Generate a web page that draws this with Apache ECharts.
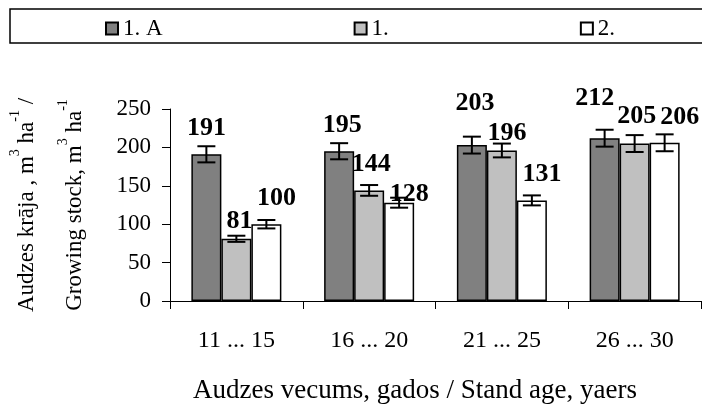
<!DOCTYPE html>
<html>
<head>
<meta charset="utf-8">
<script src="https://cdn.jsdelivr.net/npm/echarts@6/dist/echarts.min.js"></script>
<style>html,body{margin:0;padding:0;background:#fff}#c{width:702px;height:406px}</style>
</head>
<body>
<div id="c"></div>
<script>
const categories = ['11 ... 15', '16 ... 20', '21 ... 25', '26 ... 30'];
const seriesNames = ['1. A', '1.', '2.'];
const valuesA = [191, 195, 203, 212];
const values1 = [81, 144, 196, 205];
const values2 = [100, 128, 131, 206];
const errA = [10.5, 10.5, 11, 11];
const err1 = [4, 7, 9, 11];
const err2 = [5.5, 6.5, 6.5, 11];
const yMin = 0, yMax = 250, yStep = 50;

// styling: label placement relative to bar (dx, dy from bar top)
const labelShift = [
  [[0, -26], [3, -26], [3, -42], [-10, -40]],
  [[3, -18], [2, -26], [5, -17], [2, -27]],
  [[10, -26], [10, -8], [10, -26], [15, -26]]
];
const FONT = "'Liberation Serif','Times New Roman',serif";
const colors = ['#808080', '#c0c0c0', '#ffffff'];
const BAR_W = 30;

const allValues = [valuesA, values1, values2];
const allErr = [errA, err1, err2];

const barSeries = allValues.map((vals, k) => ({
  name: seriesNames[k],
  type: 'bar',
  data: vals,
  barWidth: BAR_W,
  barGap: '0%',
  itemStyle: { color: colors[k], borderColor: '#000', borderWidth: 1.5 },
  emphasis: { disabled: true },
  z: 2
}));

const errData = [];
allValues.forEach((vals, k) => vals.forEach((v, i) => errData.push([i, v, allErr[k][i], k])));

const errSeries = {
  type: 'custom',
  data: errData,
  encode: { x: 0, y: 1 },
  z: 5,
  silent: true,
  renderItem(params, api) {
    const ci = api.value(0), v = api.value(1), e = api.value(2), k = api.value(3);
    const p = api.coord([ci, v]);
    const x = p[0] + (k - 1) * BAR_W;
    const yt = api.coord([ci, v + e])[1];
    const yb = api.coord([ci, v - e])[1];
    const cap = 9;
    const sh = labelShift[k][ci];
    const st = { stroke: '#000', lineWidth: 2 };
    return {
      type: 'group',
      children: [
        { type: 'line', shape: { x1: x, y1: yt, x2: x, y2: yb }, style: st },
        { type: 'line', shape: { x1: x - cap, y1: yt, x2: x + cap, y2: yt }, style: st },
        { type: 'line', shape: { x1: x - cap, y1: yb, x2: x + cap, y2: yb }, style: st },
        { type: 'text', x: x + sh[0], y: p[1] + sh[1],
          style: { text: String(v), font: 'bold 26px ' + FONT, fill: '#000', align: 'center', verticalAlign: 'middle' } }
      ]
    };
  }
};

const chart = echarts.init(document.getElementById('c'));
chart.setOption({
  animation: false,
  backgroundColor: '#fff',
  textStyle: { fontFamily: FONT },
  legend: {
    data: seriesNames,
    orient: 'horizontal',
    left: 10, top: 9,
    width: 600,
    padding: [8, 120, 3, 95],
    itemGap: 191,
    itemWidth: 12, itemHeight: 12,
    icon: 'rect',
    borderColor: '#000', borderWidth: 1.5,
    textStyle: { fontFamily: FONT, fontSize: 23, color: '#000' },
    selectedMode: false
  },
  grid: { left: 170, right: 1, top: 109, bottom: 105, containLabel: false, outerBoundsMode: 'none' },
  xAxis: {
    type: 'category',
    data: categories,
    axisLine: { lineStyle: { color: '#000', width: 1 } },
    axisTick: { show: true, length: 8, lineStyle: { color: '#000' } },
    axisLabel: { fontFamily: FONT, fontSize: 24, color: '#000', margin: 28 },
    name: 'Audzes vecums, gados / Stand age, yaers',
    nameLocation: 'middle',
    nameGap: 76,
    nameTextStyle: { fontFamily: FONT, fontSize: 27, color: '#000', padding: [0, 41, 0, 0] }
  },
  yAxis: {
    type: 'value',
    min: yMin, max: yMax, interval: yStep,
    splitLine: { show: false },
    axisLine: { show: true, lineStyle: { color: '#000', width: 1 } },
    axisTick: { show: true, length: 8, lineStyle: { color: '#000' } },
    axisLabel: { fontFamily: FONT, fontSize: 23, color: '#000', margin: 19 },
    name: '{a|Audzes krāja , m}{s|3}{a| ha}{s|-1}{a| /}\n{a|Growing stock, m}{s|3}{a| ha}{s|-1}',
    nameLocation: 'middle',
    nameRotate: 90,
    nameGap: 71,
    nameTextStyle: {
      color: '#000',
      rich: {
        a: { fontFamily: FONT, fontSize: 23, lineHeight: 48, color: '#000' },
        s: { fontFamily: FONT, fontSize: 14, lineHeight: 24, verticalAlign: 'top', padding: [5, 0, 0, 0], color: '#000' }
      }
    }
  },
  series: [...barSeries, errSeries]
});
</script>
</body>
</html>
